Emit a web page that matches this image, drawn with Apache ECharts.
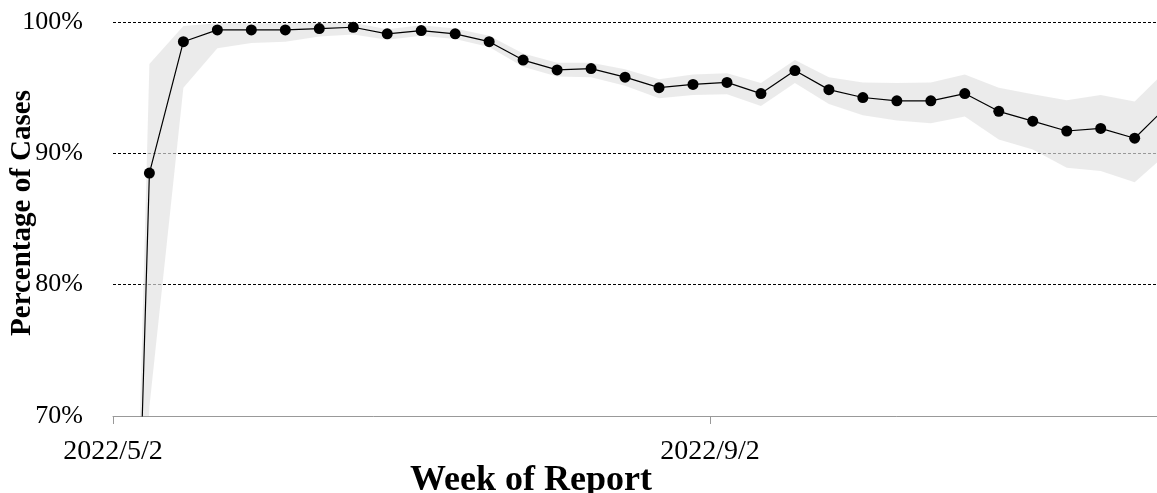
<!DOCTYPE html>
<html>
<head>
<meta charset="utf-8">
<style>
html,body{margin:0;padding:0;background:#fff;}
#chart{width:1157px;height:493px;}
</style>
<script src="https://cdn.jsdelivr.net/npm/echarts@6/dist/echarts.min.js"></script>
</head>
<body>
<div id="chart"></div>
<script>
// Week of report (start date of each weekly bin)
const weeks = [
  '2022-05-02','2022-05-09','2022-05-16','2022-05-23','2022-05-30',
  '2022-06-06','2022-06-13','2022-06-20','2022-06-27',
  '2022-07-04','2022-07-11','2022-07-18','2022-07-25',
  '2022-08-01','2022-08-08','2022-08-15','2022-08-22','2022-08-29',
  '2022-09-05','2022-09-12','2022-09-19','2022-09-26',
  '2022-10-03','2022-10-10','2022-10-17','2022-10-24','2022-10-31',
  '2022-11-07','2022-11-14','2022-11-21','2022-11-28',
  '2022-12-05'
];
// Percentage of cases (point estimate)
const pct = [
  0, 88.5, 98.5, 99.4, 99.4, 99.4, 99.5, 99.6, 99.1,
  99.35, 99.1, 98.5, 97.1, 96.35, 96.45, 95.8, 95.0, 95.25,
  95.4, 94.55, 96.3, 94.85, 94.25, 94.0, 94.0, 94.55, 93.2,
  92.45, 91.7, 91.9, 91.15, 93.7
];
// Confidence band upper / lower limits
const upper = [
  0, 96.8, 99.7, 99.9, 99.9, 99.9, 99.95, 99.95, 99.45,
  99.75, 99.5, 98.95, 97.6, 96.9, 96.9, 96.4, 95.65, 96.0,
  96.1, 95.35, 97.1, 95.8, 95.4, 95.35, 95.4, 96.0, 95.0,
  94.5, 94.05, 94.45, 93.95, 96.5
];
const lower = [
  0, 70.7, 95.0, 98.0, 98.4, 98.5, 98.9, 99.05, 98.65,
  98.95, 98.7, 98.1, 96.6, 95.85, 95.8, 95.15, 94.2, 94.45,
  94.5, 93.6, 95.35, 93.75, 92.9, 92.5, 92.3, 92.8, 91.05,
  90.3, 88.9, 88.65, 87.8, 90.1
];
const xTickLabels = ['2022/5/2', '2022/9/2'];

const DAY = 86400000;
const base = Date.parse('2022-05-02T00:00:00Z');
// each weekly value is centred on its day slot
const xOf = d => (Date.parse(d + 'T00:00:00Z') - base) / DAY + 0.5;
const xs = weeks.map(xOf);
const tickDays = xTickLabels.map(s => {
  const p = s.split('/');
  return (Date.UTC(+p[0], +p[1] - 1, +p[2]) - base) / DAY;
});

const serif = "'Liberation Serif','Times New Roman',serif";
const bandData = xs.map((x, i) => [x, lower[i], upper[i]]);
const lineData = xs.map((x, i) => [x, pct[i]]);

const chart = echarts.init(document.getElementById('chart'), null, {renderer: 'canvas'});
chart.setOption({
  animation: false,
  backgroundColor: '#fff',
  grid: {left: 113, right: 0, top: 22, bottom: 77, containLabel: false, outerBoundsMode: 'none'},
  xAxis: {
    type: 'value',
    min: 0,
    max: 215.1,
    interval: 123,
    name: 'Week of Report',
    nameLocation: 'middle',
    nameGap: 47,
    nameMoveOverlap: false,
    nameTextStyle: {fontFamily: serif, fontWeight: 'bold', fontSize: 36, color: '#000', padding: [0, 208, 0, 0]},
    axisLine: {show: true, lineStyle: {color: '#999', width: 1}},
    axisTick: {show: true, length: 8, lineStyle: {color: '#999'}, customValues: tickDays},
    axisLabel: {
      show: true, margin: 22, fontFamily: serif, fontSize: 28, color: '#000',
      customValues: tickDays,
      formatter: v => {
        const i = tickDays.findIndex(t => Math.abs(t - v) < 1e-6);
        return i >= 0 ? xTickLabels[i] : '';
      }
    },
    splitLine: {show: false}
  },
  yAxis: {
    type: 'value',
    min: 70,
    max: 100,
    interval: 10,
    name: 'Percentage of Cases',
    nameLocation: 'middle',
    nameGap: 76,
    nameMoveOverlap: false,
    nameTextStyle: {fontFamily: serif, fontWeight: 'bold', fontSize: 29, color: '#000', padding: [0, 0, 0, 12]},
    axisLine: {show: false},
    axisTick: {show: false},
    axisLabel: {margin: 30, fontFamily: serif, fontSize: 26, color: '#000', formatter: v => v + '%'},
    splitLine: {show: true, showMinLine: false, lineStyle: {color: '#000', type: [3, 2], width: 1}}
  },
  series: [
    {
      name: 'band', type: 'custom', coordinateSystem: 'cartesian2d',
      data: bandData, encode: {x: 0, y: [1, 2]}, clip: true, silent: true, z: 2,
      renderItem: (params, api) => {
        if (params.dataIndex !== 0) return null;
        const pts = [];
        for (let i = 0; i < xs.length; i++) pts.push(api.coord([xs[i], upper[i]]));
        for (let i = xs.length - 1; i >= 0; i--) pts.push(api.coord([xs[i], lower[i]]));
        const cs = params.coordSys;
        return {
          type: 'polygon',
          shape: {points: pts},
          style: {fill: 'rgba(226,226,226,0.68)', stroke: null},
          clipPath: {type: 'rect', shape: {x: cs.x, y: cs.y, width: cs.width, height: cs.height}}
        };
      }
    },
    {
      name: 'pct', type: 'line', data: lineData,
      symbol: 'circle', symbolSize: 11, showSymbol: true,
      itemStyle: {color: '#000'}, lineStyle: {color: '#000', width: 1.2},
      clip: true, z: 3
    }
  ]
});
</script>
</body>
</html>
